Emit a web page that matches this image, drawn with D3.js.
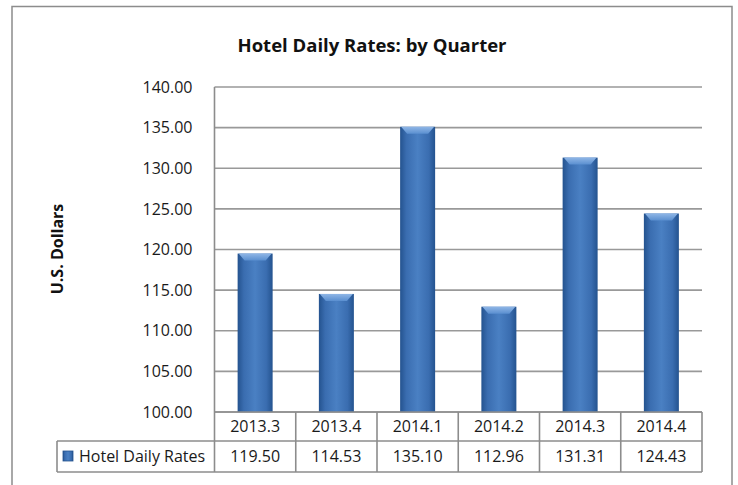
<!DOCTYPE html>
<html><head><meta charset="utf-8">
<script src="https://cdn.jsdelivr.net/npm/d3@7"></script>
<style>body{margin:0;background:#fff}svg{display:block}</style>
</head><body>
<script>
const categories = ["2013.3","2013.4","2014.1","2014.2","2014.3","2014.4"];
const seriesName = "Hotel Daily Rates";
const values = [119.50,114.53,135.10,112.96,131.31,124.43];
const yTicks = [100,105,110,115,120,125,130,135,140];
const titleText = "Hotel Daily Rates: by Quarter";
const yTitle = "U.S. Dollars";

(function(){
const W = 738, H = 485;
const font = "'Open Sans', 'Noto Sans', sans-serif";
const svg = d3.select("body").append("svg").attr("width", W).attr("height", H);
const defs = svg.append("defs");
const g1 = defs.append("linearGradient").attr("id","barGrad").attr("x1","0").attr("x2","1").attr("y1","0").attr("y2","0");
[[0,"#24538f"],[0.18,"#3a6db0"],[0.5,"#4a80c3"],[0.82,"#3a6db0"],[1,"#24538f"]].forEach(s=>g1.append("stop").attr("offset",s[0]).attr("stop-color",s[1]));
const g2 = defs.append("linearGradient").attr("id","capGrad").attr("x1","0").attr("x2","0").attr("y1","0").attr("y2","1");
[[0,"#8fb6e6"],[1,"#5a8fd0"]].forEach(s=>g2.append("stop").attr("offset",s[0]).attr("stop-color",s[1]));

// frame
svg.append("rect").attr("x",12).attr("y",6.5).attr("width",720).attr("height",500)
  .attr("fill","#fff").attr("stroke","#8c8c8c").attr("stroke-width",1.5);

const pLeft = 214.5, pRight = 702, pTop = 87, pBottom = 412;
const x = d3.scaleBand().domain(categories).range([pLeft,pRight]).paddingInner(0).paddingOuter(0);
const y = d3.scaleLinear().domain([100,140]).range([pBottom,pTop]);

// gridlines
svg.append("g").selectAll("line").data(yTicks).join("line")
  .attr("x1",pLeft).attr("x2",pRight).attr("y1",d=>y(d)).attr("y2",d=>y(d))
  .attr("stroke","#999").attr("stroke-width",1.6);

// y axis labels
const yAxis = d3.axisLeft(y).tickValues(yTicks).tickFormat(d3.format(".2f")).tickSize(0).tickPadding(22);
const ya = svg.append("g").attr("transform",`translate(${pLeft},0)`).call(yAxis);
ya.select(".domain").remove();
ya.selectAll("text").attr("font-family",font).attr("font-size",16).attr("fill","#1a1a1a");

// left axis line
svg.append("line").attr("x1",pLeft).attr("x2",pLeft).attr("y1",pTop).attr("y2",pBottom)
  .attr("stroke","#8c8c8c").attr("stroke-width",1.6);

// bars
const bw = 35;
const bars = svg.append("g").selectAll("g").data(values).join("g");
bars.append("rect")
  .attr("x",(d,i)=>x(categories[i])+x.bandwidth()/2-bw/2)
  .attr("y",d=>y(d)).attr("width",bw).attr("height",d=>pBottom-y(d))
  .attr("fill","url(#barGrad)");
bars.append("path").attr("d",(d,i)=>{
  const x0 = x(categories[i])+x.bandwidth()/2-bw/2, y0 = y(d);
  return `M${x0+1},${y0} L${x0+bw-1},${y0} L${x0+bw-7},${y0+7} L${x0+7},${y0+7} Z`;
}).attr("fill","url(#capGrad)");

// table
const tLeft = 57, row1 = pBottom, row2 = 441, row3 = 472;
const tg = svg.append("g").attr("stroke","#8c8c8c").attr("stroke-width",1.6).attr("fill","none");
tg.append("line").attr("x1",pLeft).attr("x2",pRight).attr("y1",row1).attr("y2",row1);
tg.append("line").attr("x1",tLeft).attr("x2",pRight).attr("y1",row2).attr("y2",row2);
tg.append("line").attr("x1",tLeft).attr("x2",pRight).attr("y1",row3).attr("y2",row3);
tg.append("line").attr("x1",tLeft).attr("x2",tLeft).attr("y1",row2).attr("y2",row3);
const vlines = categories.map(c=>x(c)).concat([pRight]);
tg.selectAll("line.v").data(vlines).join("line").attr("class","v")
  .attr("x1",d=>d).attr("x2",d=>d).attr("y1",row1).attr("y2",row3);

svg.append("g").selectAll("text").data(categories).join("text")
  .attr("x",d=>x(d)+x.bandwidth()/2).attr("y",(row1+row2)/2+5.5)
  .attr("text-anchor","middle").attr("font-family",font).attr("font-size",16).attr("fill","#1a1a1a")
  .text(d=>d);
svg.append("g").selectAll("text").data(values).join("text")
  .attr("x",(d,i)=>x(categories[i])+x.bandwidth()/2).attr("y",(row2+row3)/2+5.5)
  .attr("text-anchor","middle").attr("font-family",font).attr("font-size",16).attr("fill","#1a1a1a")
  .text(d=>d3.format(".2f")(d));

// legend key
svg.append("rect").attr("x",63).attr("y",451).attr("width",10).attr("height",10).attr("fill","url(#barGrad)")
  .attr("stroke","#24538f").attr("stroke-width",0.8);
svg.append("text").attr("x",79).attr("y",(row2+row3)/2+5.5).attr("font-family",font).attr("font-size",16)
  .attr("fill","#1a1a1a").text(seriesName);

// title
svg.append("text").attr("x",372).attr("y",52).attr("text-anchor","middle").attr("font-family",font)
  .attr("font-weight","bold").attr("font-size",18.5).attr("fill","#111").text(titleText);
svg.append("text").attr("transform","translate(63,249) rotate(-90)").attr("text-anchor","middle")
  .attr("font-family",font).attr("font-weight","bold").attr("font-size",16).attr("fill","#111").text(yTitle);
})();
</script>
</body></html>
